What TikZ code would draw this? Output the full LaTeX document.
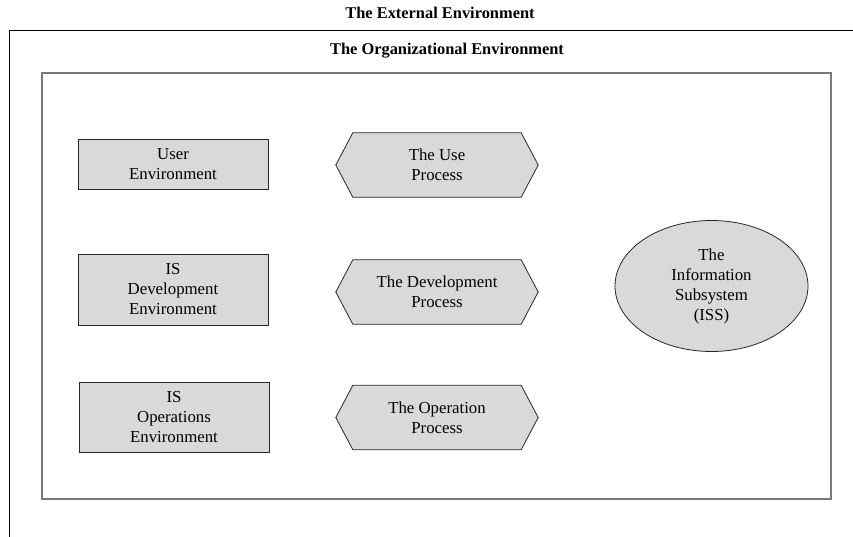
\documentclass[tikz,border=0pt]{standalone}
\usepackage{fontspec}
\setmainfont{Liberation Serif}
\usetikzlibrary{shapes.geometric,backgrounds}
\definecolor{boxfill}{HTML}{D9D9D9}
\definecolor{innerline}{HTML}{7A7A7A}
\tikzset{
  txt/.style={font=\fontsize{16.8}{20}\selectfont, align=center, inner sep=0pt},
  ttl/.style={font=\fontsize{16.4}{20}\selectfont\bfseries, inner sep=0pt},
  envbox/.style={txt, draw=black!85, line width=0.8pt, fill=boxfill, minimum width=190pt},
  hexbox/.style={txt, minimum width=202pt, minimum height=64pt},
  hexline/.style={draw=black!85, line width=0.8pt, fill=boxfill},
  issnode/.style={txt, ellipse, draw=black!85, line width=0.8pt, fill=boxfill, minimum width=193pt, minimum height=131pt},
}
\begin{document}
\begin{tikzpicture}[x=1pt,y=-1pt]
\useasboundingbox (0,0) rectangle (853,537);
% outer environment (cropped at right and bottom)
\coordinate (oa) at (9,537);
\coordinate (ob) at (9,30);
\coordinate (oc) at (853,30);
\draw[black, line width=0.9pt] (oa) -- (ob) -- (oc);
% inner organizational environment
\draw[innerline, line width=1.3pt] (42,73) rectangle (831,499);
% titles
\node[ttl] (ext) at (440,13) {The External Environment};
\node[ttl] (org) at (447,51) {The Organizational Environment};
% environment boxes
\node[envbox, minimum height=50pt] (user) at (173,164) {User\\Environment};
\node[envbox, minimum height=71pt] (isdev) at (173,289.5) {IS\\Development\\Environment};
\node[envbox, minimum height=70pt] (isops) at (174,417) {IS\\Operations\\Environment};
% processes
\node[hexbox] (usep) at (437,165) {The Use\\Process};
\node[hexbox] (devp) at (437,292) {The Development\\Process};
\node[hexbox] (opp) at (437,417.5) {The Operation\\Process};
\begin{scope}[on background layer]
\foreach \h in {usep,devp,opp}{
  \draw[hexline] (\h.west) -- ([xshift=17pt]\h.north west) -- ([xshift=-17pt]\h.north east)
    -- (\h.east) -- ([xshift=-17pt]\h.south east) -- ([xshift=17pt]\h.south west) -- cycle;
}
\end{scope}
% information subsystem
\node[issnode] (iss) at (711.5,286) {The\\Information\\Subsystem\\(ISS)};
\end{tikzpicture}
\end{document}
